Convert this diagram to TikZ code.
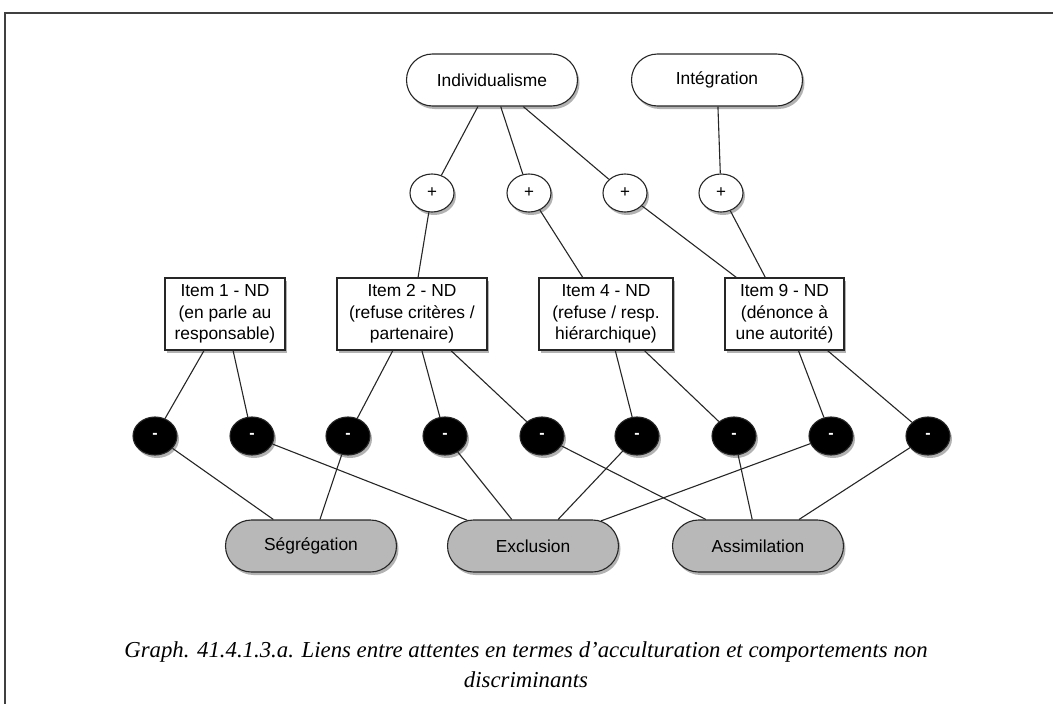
\documentclass[tikz,border=0pt]{standalone}
\usepackage{fontspec}
\setmainfont{Liberation Serif}
\newfontfamily\nodefont{Liberation Sans}
\usetikzlibrary{shadows,shapes.misc,shapes.geometric}
\begin{document}
\begin{tikzpicture}[x=1pt,y=-1pt,
  base/.style={font=\nodefont\fontsize{17.4}{21.5}\selectfont, line width=1.1pt, draw=black!85,
    drop shadow={shadow xshift=2pt, shadow yshift=-3pt, opacity=0.3, fill=black}},
  pill/.style={base, rounded rectangle, minimum width=171pt, minimum height=52pt, fill=white, inner sep=0pt},
  gpill/.style={pill, fill=black!28},
  itembox/.style={base, rectangle, fill=white, align=center, minimum height=72pt, inner xsep=2pt},
  plusnode/.style={base, ellipse, minimum width=44pt, minimum height=38pt, inner sep=0pt, fill=white, font=\nodefont\fontsize{17}{18}\selectfont},
  minusnode/.style={base, ellipse, minimum width=44pt, minimum height=38pt, inner sep=0pt, fill=black, text=white, font=\nodefont\bfseries\fontsize{16}{18}\selectfont},
  conn/.style={line width=1.1pt, draw=black!85},
  frame/.style={line width=1.3pt, draw=black!75}
]
\useasboundingbox (0,0) rectangle (1053,704);
\draw[frame] (5,704) -- (5,13) -- (1053,13);

% top
\node[pill] (ind) at (492,80) {Individualisme};
\node[pill] (integ) at (717,80) {Intégration};

% plus
\node[plusnode] (p1) at (432,193) {+};
\node[plusnode] (p2) at (529,193) {+};
\node[plusnode] (p3) at (625,193) {+};
\node[plusnode] (p4) at (721,193) {+};

% items
\node[itembox, minimum width=120pt] (i1) at (225,314) {Item 1 - ND\\(en parle au\\responsable)};
\node[itembox, minimum width=150pt] (i2) at (412,314) {Item 2 - ND\\(refuse critères /\\partenaire)};
\node[itembox, minimum width=134pt] (i4) at (606,314) {Item 4 - ND\\(refuse / resp.\\hiérarchique)};
\node[itembox, minimum width=119pt] (i9) at (784.5,314) {Item 9 - ND\\(dénonce à\\une autorité)};

% minus
\foreach \i/\x in {1/155,2/252,3/348,4/445,5/542,6/637,7/734,8/831,9/928}
  \node[minusnode] (m\i) at (\x,436) {-};

% bottom
\node[gpill] (seg) at (311,546) {Ségrégation};
\node[gpill] (exc) at (533,546) {Exclusion};
\node[gpill] (ass) at (758,546) {Assimilation};

% connectors
\draw[conn] (ind) -- (p1);
\draw[conn] (ind) -- (p2);
\draw[conn] (ind) -- (p3);
\draw[conn] (integ) -- (p4);
\draw[conn] (p1) -- (i2);
\draw[conn] (p2) -- (i4);
\draw[conn] (p3) -- (i9);
\draw[conn] (p4) -- (i9);
\draw[conn] (i1) -- (m1);
\draw[conn] (i1) -- (m2);
\draw[conn] (i2) -- (m3);
\draw[conn] (i2) -- (m4);
\draw[conn] (i2) -- (m5);
\draw[conn] (i4) -- (m6);
\draw[conn] (i4) -- (m7);
\draw[conn] (i9) -- (m8);
\draw[conn] (i9) -- (m9);
\draw[conn] (m1) -- (seg);
\draw[conn] (m2) -- (exc);
\draw[conn] (m3) -- (seg);
\draw[conn] (m4) -- (exc);
\draw[conn] (m5) -- (ass);
\draw[conn] (m6) -- (exc);
\draw[conn] (m7) -- (ass);
\draw[conn] (m8) -- (exc);
\draw[conn] (m9) -- (ass);

% caption
\node[font=\itshape\fontsize{22.8}{30}\selectfont, align=center] (cap) at (526,665)
  {Graph. 41.4.1.3.a. Liens entre attentes en termes d’acculturation et comportements non\\discriminants};
\end{tikzpicture}
\end{document}
